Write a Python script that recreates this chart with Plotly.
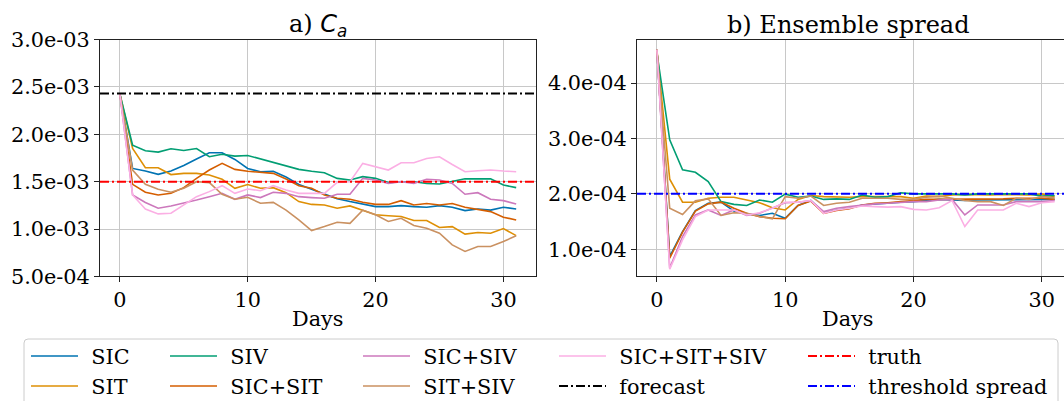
import plotly.graph_objects as go

# ---------------- data ----------------
days = list(range(32))

series_names = ["SIC", "SIT", "SIV", "SIC+SIT", "SIC+SIV", "SIT+SIV", "SIC+SIT+SIV"]
series_colors = ["#0173B2", "#DE8F05", "#029E73", "#D55E00", "#CC78BC", "#CA9161", "#FBAFE4"]

# panel a) C_a, values in units of 1e-3
ca_sic = [2.43, 1.64, 1.612, 1.577, 1.612, 1.67, 1.74, 1.805, 1.805, 1.735, 1.64, 1.605, 1.61, 1.55, 1.47, 1.42,
          1.37, 1.32, 1.29, 1.265, 1.237, 1.237, 1.247, 1.237, 1.23, 1.247, 1.23, 1.195, 1.212, 1.2, 1.23, 1.212]
ca_sit = [2.43, 1.85, 1.647, 1.647, 1.575, 1.588, 1.588, 1.57, 1.525, 1.43, 1.47, 1.43, 1.437, 1.384, 1.29, 1.26,
          1.254, 1.22, 1.244, 1.2, 1.15, 1.14, 1.132, 1.09, 1.09, 1.016, 1.026, 0.946, 0.963, 0.956, 1.005, 0.93]
ca_siv = [2.43, 1.886, 1.826, 1.812, 1.847, 1.83, 1.85, 1.763, 1.79, 1.77, 1.777, 1.74, 1.70, 1.66, 1.63, 1.61,
          1.595, 1.535, 1.518, 1.553, 1.535, 1.49, 1.5, 1.5, 1.48, 1.475, 1.5, 1.53, 1.53, 1.53, 1.465, 1.437]
ca_sic_sit = [2.43, 1.472, 1.388, 1.36, 1.377, 1.437, 1.535, 1.623, 1.693, 1.63, 1.61, 1.598, 1.588, 1.528, 1.458, 1.43,
              1.36, 1.325, 1.314, 1.282, 1.26, 1.26, 1.3, 1.254, 1.27, 1.254, 1.27, 1.23, 1.21, 1.184, 1.125, 1.096]
ca_sic_siv = [2.43, 1.36, 1.28, 1.22, 1.244, 1.272, 1.307, 1.342, 1.377, 1.314, 1.36, 1.332, 1.388, 1.377, 1.342, 1.332,
              1.325, 1.367, 1.367, 1.535, 1.518, 1.482, 1.5, 1.482, 1.525, 1.518, 1.482, 1.367, 1.384, 1.314, 1.3, 1.265]
ca_sit_siv = [2.43, 1.623, 1.472, 1.42, 1.388, 1.43, 1.5, 1.49, 1.367, 1.314, 1.335, 1.272, 1.282, 1.2, 1.096, 0.984,
              1.026, 1.072, 1.06, 1.2, 1.15, 1.08, 1.114, 1.037, 1.009, 0.956, 0.833, 0.763, 0.816, 0.816, 0.868, 0.93]
ca_all = [2.43, 1.36, 1.212, 1.16, 1.167, 1.254, 1.342, 1.395, 1.458, 1.377, 1.423, 1.405, 1.458, 1.412, 1.377, 1.377,
          1.377, 1.493, 1.5, 1.693, 1.658, 1.623, 1.7, 1.7, 1.745, 1.763, 1.682, 1.605, 1.616, 1.623, 1.612, 1.605]

# panel b) ensemble spread, values in units of 1e-4
sp_sic = [4.6, 0.87, 1.32, 1.7, 1.83, 1.85, 1.69, 1.64, 1.61, 1.65, 1.56, 1.79, 1.88, 1.66, 1.71, 1.74,
          1.8, 1.82, 1.84, 1.85, 1.86, 1.88, 1.9, 1.89, 1.88, 1.89, 1.89, 1.9, 1.9, 1.9, 1.9, 1.9]
sp_sit = [4.6, 2.265, 1.85, 1.85, 1.92, 1.94, 1.94, 1.89, 1.84, 1.75, 1.71, 1.9, 1.97, 1.95, 1.94, 1.94,
          1.95, 1.95, 1.94, 1.95, 1.92, 1.96, 1.95, 1.98, 1.99, 1.98, 1.98, 1.99, 1.98, 1.98, 2.0, 1.95]
sp_siv = [4.55, 2.976, 2.434, 2.39, 2.22, 1.86, 1.81, 1.79, 1.89, 1.85, 1.995, 1.94, 1.96, 1.9, 1.91, 1.9,
          1.98, 1.94, 1.95, 2.02, 2.0, 2.0, 2.0, 2.0, 1.98, 2.0, 2.0, 2.0, 2.0, 2.0, 1.96, 1.97]
sp_sic_sit = [4.6, 0.84, 1.31, 1.69, 1.82, 1.85, 1.74, 1.65, 1.59, 1.56, 1.55, 1.79, 1.87, 1.65, 1.7, 1.73,
              1.8, 1.83, 1.84, 1.86, 1.88, 1.9, 1.9, 1.9, 1.9, 1.9, 1.9, 1.91, 1.92, 1.92, 1.92, 1.9]
sp_sic_siv = [4.6, 0.66, 1.23, 1.62, 1.71, 1.61, 1.71, 1.61, 1.65, 1.74, 1.84, 1.85, 1.88, 1.68, 1.74, 1.77,
              1.8, 1.82, 1.83, 1.85, 1.86, 1.86, 1.89, 1.9, 1.62, 1.8, 1.8, 1.8, 1.86, 1.86, 1.86, 1.88]
sp_sit_siv = [4.6, 1.74, 1.626, 1.874, 1.91, 1.61, 1.66, 1.65, 1.59, 1.55, 1.95, 1.92, 1.96, 1.79, 1.83, 1.85,
              1.92, 1.92, 1.92, 1.9, 1.9, 1.94, 1.96, 1.92, 1.88, 1.86, 1.86, 1.79, 1.92, 1.9, 1.95, 1.93]
sp_all = [4.6, 0.64, 1.17, 1.59, 1.71, 1.71, 1.71, 1.62, 1.66, 1.74, 1.85, 1.85, 1.88, 1.65, 1.71, 1.74,
          1.78, 1.77, 1.76, 1.77, 1.72, 1.71, 1.75, 1.88, 1.41, 1.71, 1.71, 1.71, 1.83, 1.77, 1.84, 1.86]

truth_value = 1.5e-3
forecast_value = 2.43e-3
threshold_spread = 2.0e-4

ca_ticks = [5e-4, 1e-3, 1.5e-3, 2e-3, 2.5e-3, 3e-3]
ca_ticktext = ["5.0e-04", "1.0e-03", "1.5e-03", "2.0e-03", "2.5e-03", "3.0e-03"]
sp_ticks = [1e-4, 2e-4, 3e-4, 4e-4]
sp_ticktext = ["1.0e-04", "2.0e-04", "3.0e-04", "4.0e-04"]
x_ticks = [0, 10, 20, 30]

ca_series = [ca_sic, ca_sit, ca_siv, ca_sic_sit, ca_sic_siv, ca_sit_siv, ca_all]
sp_series = [sp_sic, sp_sit, sp_siv, sp_sic_sit, sp_sic_siv, sp_sit_siv, sp_all]

# ---------------- layout helpers ----------------
W, H = 1064, 401
FONT = "DejaVu Serif"
def fx(p):
    return p / W
def fy(p):
    return 1 - p / H

legend_of = {"SIC": "legend", "SIT": "legend", "SIV": "legend2", "SIC+SIT": "legend2",
             "SIC+SIV": "legend3", "SIT+SIV": "legend3", "SIC+SIT+SIV": "legend4",
             "forecast": "legend4", "truth": "legend5", "threshold spread": "legend5"}
rank_of = {"SIC": 1, "SIT": 2, "SIV": 1, "SIC+SIT": 2, "SIC+SIV": 1, "SIT+SIV": 2,
           "SIC+SIT+SIV": 1, "forecast": 2, "truth": 1, "threshold spread": 2}
PAD = "\u2009\u2009"

fig = go.Figure()
LW = 1.6
for name, color, ca, sp in zip(series_names, series_colors, ca_series, sp_series):
    fig.add_trace(go.Scatter(x=days, y=[v * 1e-3 for v in ca], mode="lines", name=PAD + name,
                             line=dict(color=color, width=LW), legendgroup=name,
                             legend=legend_of[name], legendrank=rank_of[name],
                             xaxis="x", yaxis="y"))
    fig.add_trace(go.Scatter(x=days, y=[v * 1e-4 for v in sp], mode="lines", name=name,
                             line=dict(color=color, width=LW), legendgroup=name, showlegend=False,
                             xaxis="x2", yaxis="y2"))

DASH = "9px,3px,2px,3px"
ref_lines = [("forecast", "black", forecast_value, "y"),
             ("truth", "red", truth_value, "y"),
             ("threshold spread", "blue", threshold_spread, "y2")]
for name, color, val, yref in ref_lines:
    xref = "x domain" if yref == "y" else "x2 domain"
    fig.add_shape(type="line", xref=xref, yref=yref, x0=0, x1=1, y0=val, y1=val,
                  line=dict(color=color, width=2, dash=DASH), layer="above")
    fig.add_trace(go.Scatter(x=[None], y=[None], mode="lines", name=PAD + name,
                             line=dict(color=color, width=2, dash=DASH),
                             legend=legend_of[name], legendrank=rank_of[name],
                             xaxis="x", yaxis="y"))

axis_common = dict(showgrid=True, gridcolor="#c8c8c8", gridwidth=1.2, zeroline=False,
                   showline=True, linecolor="#222222", linewidth=1.1,
                   ticks="outside", ticklen=5, tickwidth=1.1, tickcolor="#222222",
                   tickfont=dict(family=FONT, size=20.8, color="black"), automargin=False)

fig.update_layout(
    width=W, height=H, margin=dict(l=0, r=0, t=0, b=0, autoexpand=False),
    paper_bgcolor="white", plot_bgcolor="white",
    font=dict(family=FONT, color="black"),
    xaxis=dict(domain=[fx(100), fx(536)], range=[-1.55, 32.55], tickvals=x_ticks,
               anchor="y", mirror=True, **axis_common),
    yaxis=dict(domain=[fy(276.4), fy(39.6)], range=[5e-4, 3e-3], tickvals=ca_ticks,
               ticktext=ca_ticktext, anchor="x", mirror=True, **axis_common),
    xaxis2=dict(domain=[fx(637), 1.0], range=[-1.55, 31.73], tickvals=x_ticks,
                anchor="y2", mirror=True, **axis_common),
    yaxis2=dict(domain=[fy(276.4), fy(39.6)], range=[0.511e-4, 4.783e-4], tickvals=sp_ticks,
                ticktext=sp_ticktext, anchor="x2", **axis_common),
)

# titles and axis labels
fig.add_annotation(x=fx(318), y=fy(25), xref="paper", yref="paper", showarrow=False,
                   text="a) <span style='font-family:DejaVu Sans'><i>C</i><sub><i>a</i></sub></span>",
                   font=dict(family=FONT, size=24, color="black"), xanchor="center", yanchor="middle")
fig.add_annotation(x=fx(848.5), y=fy(25), xref="paper", yref="paper", showarrow=False,
                   text="b) Ensemble spread",
                   font=dict(family=FONT, size=24, color="black"), xanchor="center", yanchor="middle")
for cx in (318, 848):
    fig.add_annotation(x=fx(cx), y=fy(319), xref="paper", yref="paper", showarrow=False,
                       text="Days", font=dict(family=FONT, size=20.8, color="black"),
                       xanchor="center", yanchor="middle")

# legend frame
x0, x1, y0, y1, r = 24, 1058, 339, 420, 4
path = (f"M {fx(x0)},{fy(y1)} L {fx(x0)},{fy(y0 + r)} Q {fx(x0)},{fy(y0)} {fx(x0 + r)},{fy(y0)} "
        f"L {fx(x1 - r)},{fy(y0)} Q {fx(x1)},{fy(y0)} {fx(x1)},{fy(y0 + r)} L {fx(x1)},{fy(y1)} Z")
fig.add_shape(type="path", xref="paper", yref="paper", path=path,
              line=dict(color="#cccccc", width=1), fillcolor="white", layer="below")

legend_cols = {"legend": 26, "legend2": 165, "legend3": 358, "legend4": 554, "legend5": 803}
for key, lx in legend_cols.items():
    fig.update_layout({key: dict(x=fx(lx), y=fy(336), xanchor="left", yanchor="top",
                                 orientation="v", bgcolor="rgba(0,0,0,0)", borderwidth=0,
                                 font=dict(family=FONT, size=20.8, color="black"),
                                 traceorder="normal", itemwidth=47, tracegroupgap=0)})

fig.write_html("out.html")
